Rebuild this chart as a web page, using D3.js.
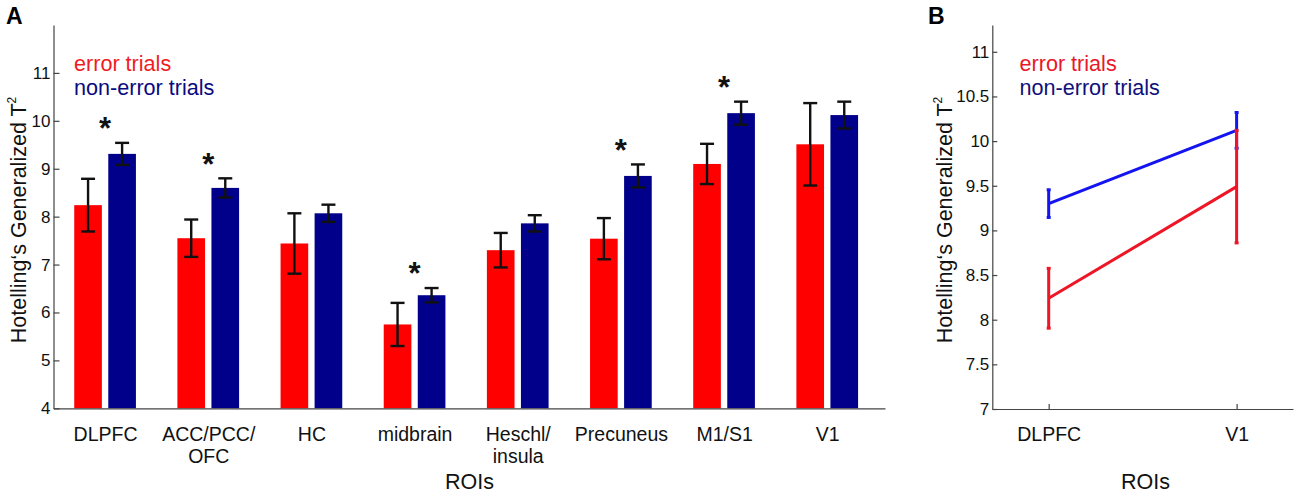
<!DOCTYPE html>
<html>
<head>
<meta charset="utf-8">
<script src="https://cdn.jsdelivr.net/npm/d3@7"></script>
<style>
    body { margin: 0; background: #fff; }
    svg { display: block; font-family: 'Liberation Sans', Arial, sans-serif; }
    .axis path, .axis line { stroke: #444; stroke-width: 1.2; }
    .axis text { fill: #111; }
</style>
</head>
<body>
<svg id="chart" width="1300" height="496"></svg>
<script>
// Panel A: all ROIs
const rois = ['DLPFC', 'ACC/PCC/|OFC', 'HC', 'midbrain', 'Heschl/|insula', 'Precuneus', 'M1/S1', 'V1'];
const errorMean = [8.24, 7.55, 7.44, 5.75, 7.30, 7.54, 9.10, 9.51];
const errorErr = [0.55, 0.39, 0.63, 0.45, 0.36, 0.43, 0.42, 0.86];
const nonErrorMean = [9.31, 8.60, 8.07, 6.36, 7.86, 8.85, 10.16, 10.12];
const nonErrorErr = [0.23, 0.20, 0.18, 0.15, 0.17, 0.24, 0.24, 0.28];
const significant = [true, true, false, true, false, true, true, false];
const yTicksA = [4, 5, 6, 7, 8, 9, 10, 11];

// Panel B: DLPFC vs V1
const roisB = ['DLPFC', 'V1'];
const errorMeanB = [8.24, 9.49];
const errorErrB = [0.335, 0.63];
const nonErrorMeanB = [9.30, 10.12];
const nonErrorErrB = [0.155, 0.20];
const yTicksB = [7, 7.5, 8, 8.5, 9, 9.5, 10, 10.5, 11];

const legendLabels = ['error trials', 'non-error trials'];

const svg = d3.select('#chart');

function yLabel(g, x, y) {
    const t = g.append('text')
        .attr('transform', `translate(${x}, ${y}) rotate(-90)`)
        .attr('text-anchor', 'middle')
        .attr('font-size', 21.5)
        .attr('fill', '#111');
    t.append('tspan').text('Hotelling\u2018s Generalized T');
    t.append('tspan').attr('dy', -10).attr('font-size', 12).text('2');
}

function legend(g, x, colors) {
    g.selectAll('text.legend')
        .data(legendLabels)
        .join('text')
        .attr('class', 'legend')
        .attr('x', x)
        .attr('y', (d, i) => 70.5 + i * 24.8)
        .attr('font-size', 21.6)
        .attr('fill', (d, i) => colors[i])
        .text((d) => d);
}

function drawPanelA() {
    const g = svg.append('g');
    const x = d3.scaleLinear().domain([0.5, 8.56]).range([53.5, 885]);
    const y = d3.scaleLinear().domain([4, 12]).range([408.3, 25]);
    const barW = 0.268;
    const off = 0.165;
    const capW = 7;

    // y axis, ticks pointing inward
    g.append('g')
        .attr('class', 'axis')
        .attr('transform', `translate(${x.range()[0]}, 0)`)
        .call(d3.axisLeft(y).tickValues(yTicksA).tickSizeInner(-6).tickSizeOuter(0).tickPadding(3))
        .call((a) => a.selectAll('text').attr('font-size', 17));

    // bars
    const series = [
        { mean: errorMean, err: errorErr, color: '#ff0000', dx: -off },
        { mean: nonErrorMean, err: nonErrorErr, color: '#00008b', dx: off },
    ];

    series.forEach((s) => {
        g.append('g')
            .selectAll('rect')
            .data(s.mean)
            .join('rect')
            .attr('x', (d, i) => x(i + 1 + s.dx - barW / 2))
            .attr('width', x(barW) - x(0))
            .attr('y', (d) => y(d))
            .attr('height', (d) => y(4) - y(d))
            .attr('fill', s.color);
    });

    // x axis line + category labels
    const xAxis = g.append('g')
        .attr('class', 'axis')
        .attr('transform', `translate(0, ${y(4)})`)
        .call(d3.axisBottom(x).tickValues(d3.range(1, 9)).tickSize(0).tickFormat((d) => rois[d - 1]));

    xAxis.selectAll('.tick text')
        .attr('font-size', 19.5)
        .attr('y', null)
        .attr('dy', null)
        .each(function (d) {
            const lines = rois[d - 1].split('|');
            const t = d3.select(this).text('');
            lines.forEach((l, k) => {
                t.append('tspan').attr('x', 0).attr('y', 32.4 + k * 22).text(l);
            });
        });

    // error bars
    series.forEach((s) => {
        const eb = g.append('g').attr('stroke', '#111').attr('stroke-width', 2.4).attr('fill', 'none');
        s.mean.forEach((m, i) => {
            const cx = x(i + 1 + s.dx);
            const lo = y(m - s.err[i]);
            const hi = y(m + s.err[i]);
            eb.append('line').attr('x1', cx).attr('x2', cx).attr('y1', lo).attr('y2', hi);
            eb.append('line').attr('x1', cx - capW).attr('x2', cx + capW).attr('y1', lo).attr('y2', lo);
            eb.append('line').attr('x1', cx - capW).attr('x2', cx + capW).attr('y1', hi).attr('y2', hi);
        });
    });

    // significance stars
    g.append('g')
        .selectAll('text')
        .data(rois.map((r, i) => i).filter((i) => significant[i]))
        .join('text')
        .attr('x', (i) => x(i + 1))
        .attr('y', (i) => y(Math.max(errorMean[i] + errorErr[i], nonErrorMean[i] + nonErrorErr[i]) + 0.45) + 18)
        .attr('text-anchor', 'middle')
        .attr('font-size', 31)
        .attr('font-weight', 'bold')
        .attr('fill', '#111')
        .text('*');

    legend(g, 74, ['#f01c24', '#0a0a80']);
    yLabel(g, 26, 220);

    g.append('text')
        .attr('x', 469.5)
        .attr('y', 489)
        .attr('text-anchor', 'middle')
        .attr('font-size', 21.5)
        .attr('fill', '#111')
        .text('ROIs');

    g.append('text')
        .attr('x', 6)
        .attr('y', 23.5)
        .attr('font-size', 23)
        .attr('font-weight', 'bold')
        .text('A');
}

function drawPanelB() {
    const g = svg.append('g');
    const x = d3.scaleLinear().domain([0.7, 2.3]).range([992.3, 1293]);
    const y = d3.scaleLinear().domain([7, 11.3]).range([409, 25]);

    g.append('g')
        .attr('class', 'axis')
        .attr('transform', `translate(${x.range()[0]}, 0)`)
        .call(d3.axisLeft(y).tickValues(yTicksB).tickFormat((d) => d).tickSizeInner(-5).tickSizeOuter(0).tickPadding(3))
        .call((a) => a.selectAll('text').attr('font-size', 17));

    g.append('g')
        .attr('class', 'axis')
        .attr('transform', `translate(0, ${y(7)})`)
        .call(d3.axisBottom(x).tickValues([1, 2]).tickFormat((d) => roisB[d - 1]).tickSizeInner(-5).tickSizeOuter(0))
        .call((a) => a.selectAll('text').attr('font-size', 19.5).attr('dy', null).attr('y', 31.7));

    const series = [
        { mean: nonErrorMeanB, err: nonErrorErrB, color: '#1414f0' },
        { mean: errorMeanB, err: errorErrB, color: '#ee1526' },
    ];

    const line = d3.line()
        .x((d, i) => x(i + 1))
        .y((d) => y(d));

    series.forEach((s) => {
        const sg = g.append('g').attr('stroke', s.color).attr('stroke-width', 3).attr('fill', 'none');
        sg.append('path').attr('d', line(s.mean));
        s.mean.forEach((m, i) => {
            const cx = x(i + 1);
            const lo = y(m - s.err[i]);
            const hi = y(m + s.err[i]);
            sg.append('line').attr('x1', cx).attr('x2', cx).attr('y1', lo).attr('y2', hi);
            sg.append('line').attr('x1', cx - 2).attr('x2', cx + 2).attr('y1', lo).attr('y2', lo);
            sg.append('line').attr('x1', cx - 2).attr('x2', cx + 2).attr('y1', hi).attr('y2', hi);
        });
    });

    legend(g, 1019.5, ['#e8182a', '#10107a']);
    yLabel(g, 951.7, 220);

    g.append('text')
        .attr('x', 1145.5)
        .attr('y', 489)
        .attr('text-anchor', 'middle')
        .attr('font-size', 21.5)
        .attr('fill', '#111')
        .text('ROIs');

    g.append('text')
        .attr('x', 928)
        .attr('y', 23.5)
        .attr('font-size', 23)
        .attr('font-weight', 'bold')
        .text('B');
}

drawPanelA();
drawPanelB();
</script>
</body>
</html>
